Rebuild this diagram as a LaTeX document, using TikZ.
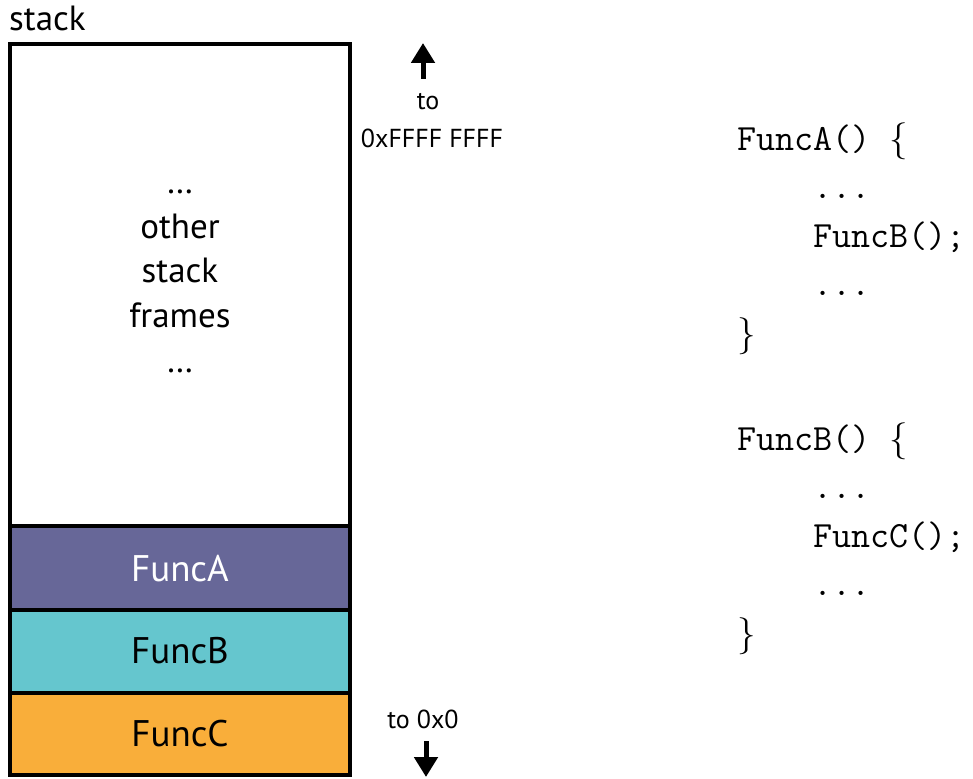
\documentclass[tikz,border=0pt]{standalone}
\usepackage{fontspec}
\setmainfont{PT Sans}
\newfontfamily\bracefont{lmroman10-regular}[Extension=.otf]
\usetikzlibrary{arrows.meta}

\definecolor{funcAfill}{RGB}{103,103,152}
\definecolor{funcBfill}{RGB}{101,198,206}
\definecolor{funcCfill}{RGB}{249,174,58}

\begin{document}
\begin{tikzpicture}[x=1pt, y=-1pt,
    frame/.style={draw, line width=4pt, fill=#1},
    lbl/.style={font=\fontsize{35}{40}\selectfont, anchor=base, inner sep=0pt},
    funclbl/.style={font=\fontsize{37}{40}\selectfont, anchor=base, inner sep=0pt},
    addr/.style={font=\fontsize{26}{30}\selectfont, anchor=base, inner sep=0pt},
    code/.style={font=\fontsize{37}{45}\ttfamily, anchor=base west, inner sep=0pt},
    addrarrow/.style={line width=5pt, -{Triangle[width=23pt,length=20pt]}}]
    \useasboundingbox (0,0) rectangle (973,778);

    % the stack
    \node[lbl, anchor=base west] (stacklbl) at (9,31) {stack};
    \draw[frame=white] (10,44) rectangle (350,526);
    \draw[frame=funcAfill] (10,526) rectangle (350,610);
    \draw[frame=funcBfill] (10,610) rectangle (350,693);
    \draw[frame=funcCfill] (10,693) rectangle (350,775);

    \node[lbl] (dotsa) at (180,193) {…};
    \node[lbl] (other) at (180,238) {other};
    \node[lbl] (stackw) at (180,282) {stack};
    \node[lbl] (frames) at (180,327) {frames};
    \node[lbl] (dotsb) at (180,372) {…};

    \node[funclbl, text=white] (funcA) at (180,581) {FuncA};
    \node[funclbl] (funcB) at (180,663) {FuncB};
    \node[funclbl] (funcC) at (180,746) {FuncC};

    % addresses
    \coordinate (upfoot) at (423,79);
    \coordinate (uptip) at (423,43);
    \draw[addrarrow] (upfoot) -- (uptip);
    \node[addr] (tohigh) at (428,110) {to};
    \node[addr] (high) at (432,148) {0xFFFF FFFF};

    \node[addr] (tolow) at (423,728) {to 0x0};
    \coordinate (downfoot) at (426,741);
    \coordinate (downtip) at (426,777);
    \draw[addrarrow] (downfoot) -- (downtip);

    % the code
    \node[code] (adef) at (737,150) {FuncA()~{\bracefont\{}};
    \node[code] (adotsa) at (737,198) {\phantom{xxxx}...};
    \node[code] (acall) at (737,247) {\phantom{xxxx}FuncB();};
    \node[code] (adotsb) at (737,295) {\phantom{xxxx}...};
    \node[code] (aend) at (737,345) {{\bracefont\}}};

    \node[code] (bdef) at (737,450) {FuncB()~{\bracefont\{}};
    \node[code] (bdotsa) at (737,498) {\phantom{xxxx}...};
    \node[code] (bcall) at (737,547) {\phantom{xxxx}FuncC();};
    \node[code] (bdotsb) at (737,595) {\phantom{xxxx}...};
    \node[code] (bend) at (737,645) {{\bracefont\}}};
\end{tikzpicture}
\end{document}
